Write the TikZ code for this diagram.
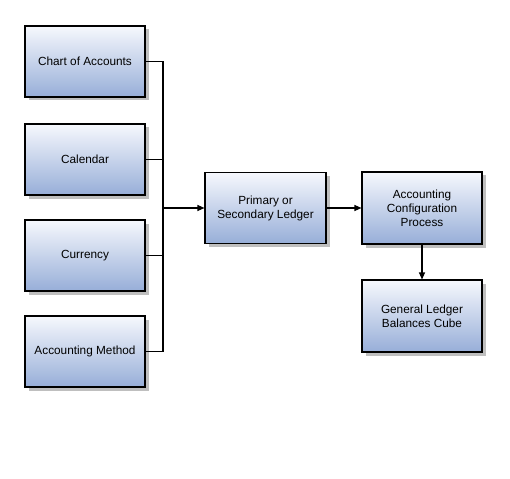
\documentclass[tikz,border=0pt]{standalone}
\usepackage{fontspec}
\setmainfont{Liberation Sans}
\usetikzlibrary{arrows.meta,shadows}
\definecolor{boxtop}{HTML}{F6F8FD}
\definecolor{boxbot}{HTML}{97AED8}
\tikzset{
  box/.style={draw=black, line width=1.1pt, minimum width=120pt, minimum height=71pt,
    top color=boxtop, bottom color=boxbot, align=center, inner sep=2pt,
    font=\fontsize{11.8}{14}\selectfont,
    drop shadow={shadow xshift=3.5pt, shadow yshift=-3.5pt, fill=black!25, opacity=1}},
  conn/.style={line width=1.1pt},
  arr/.style={conn, -{Triangle[length=7pt,width=6pt]}}
}
\begin{document}
\begin{tikzpicture}[x=1pt,y=-1pt]
\useasboundingbox (0,0) rectangle (510,478);
\node[box] (coa) at (85,61.5) {Chart of Accounts};
\node[box] (cal) at (85,159.5) {Calendar};
\node[box] (cur) at (85,255.5) {Currency};
\node[box] (am) at (85,351.5) {Accounting Method};
\node[box, minimum width=121pt] (pl) at (265.5,208) {Primary or\\Secondary Ledger};
\node[box, minimum width=120pt, minimum height=72pt] (acp) at (422,208) {Accounting\\Configuration\\Process};
\node[box, minimum width=120pt, minimum height=72pt] (gl) at (422,316) {General Ledger\\Balances Cube};
\coordinate (b1) at (163,61.5);
\coordinate (b4) at (163,351.5);
\coordinate (bm) at (163,208);
\draw[conn] (coa.east) -- (b1) -- (b4) -- (am.east);
\draw[conn] (cal.east) -- (cal.east -| b1);
\draw[conn] (cur.east) -- (cur.east -| b1);
\draw[arr] (bm) -- (pl.west);
\draw[arr] (pl.east) -- (acp.west);
\draw[arr] (acp.south) -- (gl.north);
\end{tikzpicture}
\end{document}
